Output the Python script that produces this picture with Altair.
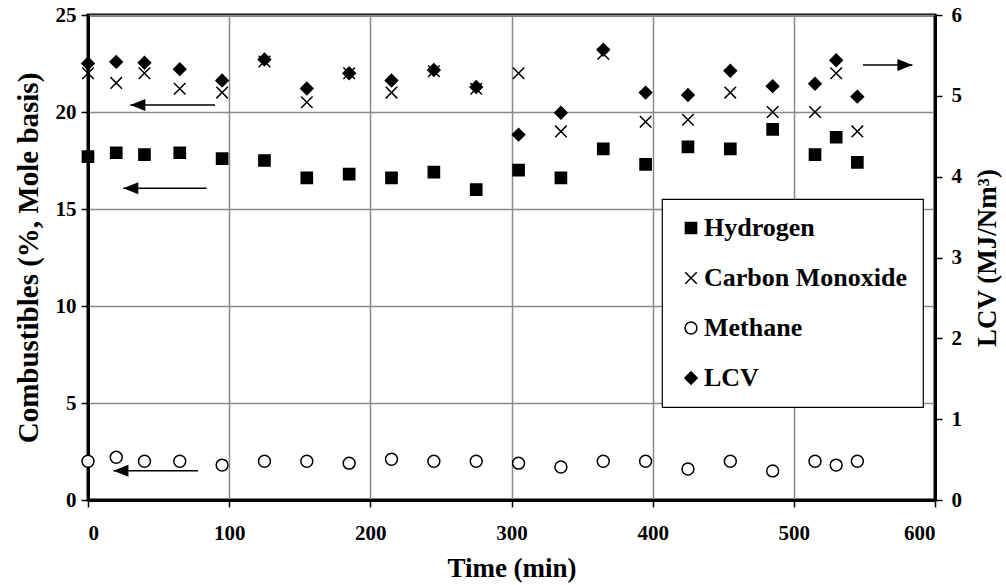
import altair as alt
import pandas as pd

# ---------------- data ----------------
time_min = [0, 20, 40, 65, 95, 125, 155, 185, 215, 245, 275, 305, 335, 365, 395, 425, 455, 485, 515, 530, 545]
hydrogen = [17.7, 17.9, 17.8, 17.9, 17.6, 17.5, 16.6, 16.8, 16.6, 16.9, 16.0, 17.0, 16.6, 18.1, 17.3, 18.2, 18.1, 19.1, 17.8, 18.7, 17.4]
carbon_monoxide = [22.0, 21.5, 22.0, 21.2, 21.0, 22.6, 20.5, 22.0, 21.0, 22.1, 21.2, 22.0, 19.0, 23.0, 19.5, 19.6, 21.0, 20.0, 20.0, 22.0, 19.0]
methane = [2.0, 2.2, 2.0, 2.0, 1.8, 2.0, 2.0, 1.9, 2.1, 2.0, 2.0, 1.9, 1.7, 2.0, 2.0, 1.6, 2.0, 1.5, 2.0, 1.8, 2.0]
lcv = [5.40, 5.42, 5.41, 5.33, 5.19, 5.45, 5.09, 5.28, 5.19, 5.32, 5.11, 4.52, 4.79, 5.57, 5.04, 5.01, 5.31, 5.12, 5.15, 5.44, 4.99]

series_names = ["Hydrogen", "Carbon Monoxide", "Methane", "LCV"]

x_ticks = [0, 100, 200, 300, 400, 500, 600]
left_ticks = [0, 5, 10, 15, 20, 25]
right_ticks = [0, 1, 2, 3, 4, 5, 6]

# annotation arrows (data units): start x, tip x, y
left_arrow_start = [90, 84, 78]
left_arrow_tip = [30, 25, 18]
left_arrow_y = [20.36, 16.07, 1.51]
right_arrow_start = [549]
right_arrow_tip = [584]
right_arrow_y = [5.38]

# ---------------- tables ----------------
n = len(time_min)
left_df = pd.DataFrame({
    "time": time_min * 3,
    "value": hydrogen + carbon_monoxide + methane,
    "series": ["Hydrogen"] * n + ["Carbon Monoxide"] * n + ["Methane"] * n,
})
right_df = pd.DataFrame({"time": time_min, "value": lcv, "series": ["LCV"] * n})
left_arrows = pd.DataFrame({"time": left_arrow_start, "tip": left_arrow_tip, "value": left_arrow_y})
right_arrows = pd.DataFrame({"time": right_arrow_start, "tip": right_arrow_tip, "value": right_arrow_y})

FONT = "Liberation Serif"
CROSS = "M-1,-1L1,1M1,-1L-1,1"
HEAD_LEFT = "M0,0L2,-0.8L2,0.8Z"
HEAD_RIGHT = "M0,0L-2,-0.8L-2,0.8Z"

shape_scale = alt.Scale(domain=series_names, range=["square", CROSS, "circle", "diamond"])
fill_scale = alt.Scale(domain=series_names, range=["black", "transparent", "white", "black"])
stroke_scale = alt.Scale(domain=series_names, range=["black", "black", "black", "black"])
size_scale = alt.Scale(domain=series_names, range=[125, 150, 105, 140])

legend = alt.Legend(
    title=None, orient="none", legendX=574, legendY=184,
    fillColor="white", strokeColor="black",
    padding=16, rowPadding=24, labelOffset=0, symbolOffset=0, labelLimit=400,
    labelFont=FONT, labelFontWeight="bold", labelFontSize=26, labelColor="black",
    symbolStrokeWidth=1.5,
)

x_scale = alt.Scale(domain=[0, 600], nice=False)
yl_scale = alt.Scale(domain=[0, 25], nice=False)
yr_scale = alt.Scale(domain=[0, 6], nice=False)

x_axis = alt.Axis(values=x_ticks, title="Time (min)", grid=True, labelPadding=15, titlePadding=12)
yl_axis = alt.Axis(values=left_ticks, title="Combustibles (%, Mole basis)",
                   grid=True, orient="left", labelPadding=5, titlePadding=12, titleFontSize=29)
yr_axis = alt.Axis(values=right_ticks, title="LCV (MJ/Nm³)", grid=False,
                   orient="right", labelPadding=9, titlePadding=13, titleAngle=270,
                   titleBaseline="top")


def series_points(df, y_scale, y_axis):
    return alt.Chart(df).mark_point(opacity=1, strokeWidth=1.5).encode(
        x=alt.X("time:Q", scale=x_scale, axis=x_axis),
        y=alt.Y("value:Q", scale=y_scale, axis=y_axis),
        shape=alt.Shape("series:N", scale=shape_scale, legend=legend),
        fill=alt.Fill("series:N", scale=fill_scale, legend=legend),
        stroke=alt.Stroke("series:N", scale=stroke_scale, legend=legend),
        size=alt.Size("series:N", scale=size_scale, legend=legend),
    )


def arrow(df, y_scale, y_axis, head):
    line = alt.Chart(df).mark_rule(color="black", strokeWidth=1.5).encode(
        x=alt.X("time:Q", scale=x_scale, axis=x_axis),
        x2="tip:Q",
        y=alt.Y("value:Q", scale=y_scale, axis=y_axis),
    )
    tip = alt.Chart(df).mark_point(
        shape=head, filled=True, color="black", opacity=1, size=225, strokeWidth=0
    ).encode(
        x=alt.X("tip:Q", scale=x_scale, axis=x_axis),
        y=alt.Y("value:Q", scale=y_scale, axis=y_axis),
    )
    return line + tip


left_group = alt.layer(series_points(left_df, yl_scale, yl_axis),
                       arrow(left_arrows, yl_scale, yl_axis, HEAD_LEFT))
right_group = alt.layer(series_points(right_df, yr_scale, yr_axis),
                        arrow(right_arrows, yr_scale, yr_axis, HEAD_RIGHT))

chart = alt.layer(left_group, right_group).resolve_scale(y="independent").properties(
    width=847, height=485,
    autosize=alt.AutoSizeParams(type="none"),
    padding={"left": 88, "top": 15, "right": 71, "bottom": 85},
    background="white",
).configure_view(
    stroke="black", strokeWidth=3
).configure_axis(
    labelFont=FONT, labelFontWeight="bold", labelFontSize=21, labelColor="black",
    titleFont=FONT, titleFontWeight="bold", titleFontSize=27, titleColor="black",
    domainColor="black", domainWidth=3,
    tickColor="black", tickWidth=1.5, tickSize=7,
    gridColor="#8a8a8a", gridWidth=1.5,
).configure_legend(
    strokeWidth=1.2
)

chart.save("out.html", embed_options={"renderer": "svg", "actions": False})
